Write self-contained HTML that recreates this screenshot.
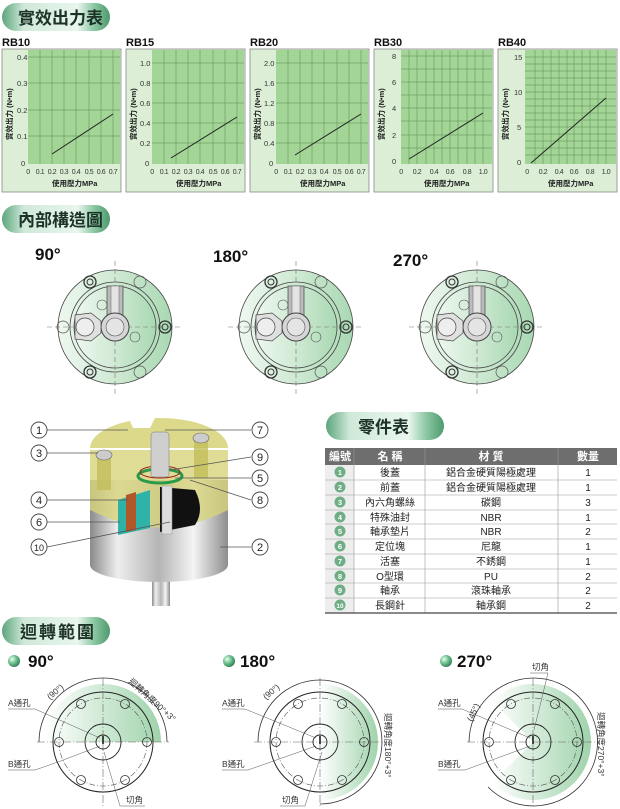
<!DOCTYPE html>
<html><head><meta charset="utf-8"><style>
body{margin:0;background:#fff;}
svg{display:block;font-family:"Liberation Sans","Noto Sans CJK TC",sans-serif;}
.tk{font-size:7.5px;fill:#333;}
.xk{font-size:7px;fill:#333;letter-spacing:-0.4px;text-anchor:middle;}
.ax{font-size:7.5px;fill:#222;font-weight:bold;}
.tt{font-size:11px;font-weight:bold;fill:#111;}
.hd{font-size:17px;font-weight:bold;fill:#1d3327;}
.deg{font-size:17px;font-weight:bold;fill:#111;}
.tb{font-size:10px;fill:#222;}
.th{font-size:11px;fill:#fff;font-weight:bold;}
.sm{font-size:8.5px;fill:#333;}
.cn{font-size:11px;fill:#222;}
</style></head><body>
<svg width="620" height="809" viewBox="0 0 620 809" xmlns="http://www.w3.org/2000/svg">
<defs>
<linearGradient id="tab" x1="0" y1="0" x2="1" y2="0">
<stop offset="0" stop-color="#5ca57c"/><stop offset="0.2" stop-color="#cfe9d8"/><stop offset="0.7" stop-color="#e9f6ee"/><stop offset="0.85" stop-color="#8cc7a3"/><stop offset="1" stop-color="#4d9a6d"/></linearGradient>
<linearGradient id="disc" x1="0" y1="0" x2="1" y2="0"><stop offset="0" stop-color="#eef8f0"/><stop offset="0.5" stop-color="#cfe9d3"/><stop offset="1" stop-color="#a9d9b3"/></linearGradient>
<linearGradient id="shade" x1="0" y1="0" x2="1" y2="0"><stop offset="0" stop-color="#ffffff"/><stop offset="1" stop-color="#9fd3ab"/></linearGradient>
<linearGradient id="silver" x1="0" y1="0" x2="1" y2="0"><stop offset="0" stop-color="#8a8a8a"/><stop offset="0.2" stop-color="#eeeeee"/><stop offset="0.5" stop-color="#b5b5b5"/><stop offset="0.75" stop-color="#f4f4f4"/><stop offset="1" stop-color="#8d8d8d"/></linearGradient>
<radialGradient id="ball" cx="0.35" cy="0.35" r="0.7"><stop offset="0" stop-color="#e8fff0"/><stop offset="0.5" stop-color="#6fc28f"/><stop offset="1" stop-color="#2f7c50"/></radialGradient>
<symbol id="top" viewBox="-60 -60 120 120" overflow="visible">
<circle r="57" fill="url(#disc)" stroke="#444" stroke-width="0.8"/>
<circle r="45" fill="none" stroke="#444" stroke-width="0.8"/>
<circle r="41" fill="url(#disc)" stroke="#444" stroke-width="0.8"/>
<line x1="-68" y1="0" x2="68" y2="0" stroke="#777" stroke-width="0.6" stroke-dasharray="5,3"/>
<line x1="0" y1="-66" x2="0" y2="68" stroke="#777" stroke-width="0.6" stroke-dasharray="5,3"/>
<rect x="-8" y="-41" width="16" height="32" fill="#bbb" stroke="#444" stroke-width="0.7"/>
<rect x="-4" y="-41" width="8" height="32" fill="#e4e4e4" stroke="#666" stroke-width="0.5"/>
<circle r="14" fill="#d6d6d6" stroke="#444" stroke-width="1"/>
<circle r="9" fill="#e4e4e4" stroke="#555" stroke-width="0.6"/>
<path d="M-40 -12 L-24 -14 L-14 -6 L-14 6 L-24 14 L-40 12 Z" fill="#e0e0e0" stroke="#444" stroke-width="0.7"/>
<circle cx="-30" cy="0" r="9" fill="#eee" stroke="#444" stroke-width="0.7"/>
<circle cx="-25" cy="-45" r="6" fill="none" stroke="#333" stroke-width="1.3"/><circle cx="-25" cy="-45" r="3" fill="none" stroke="#333"/>
<circle cx="-25" cy="45" r="6" fill="none" stroke="#333" stroke-width="1.3"/><circle cx="-25" cy="45" r="3" fill="none" stroke="#333"/>
<circle cx="25" cy="-45" r="6" fill="none" stroke="#555" stroke-width="0.7"/>
<circle cx="25" cy="45" r="6" fill="none" stroke="#555" stroke-width="0.7"/>
<circle cx="-52" cy="0" r="6" fill="none" stroke="#555" stroke-width="0.7"/>
<circle cx="50" cy="0" r="6" fill="none" stroke="#333" stroke-width="1.3"/><circle cx="50" cy="0" r="3" fill="none" stroke="#333"/>
<circle cx="-13" cy="-22" r="5" fill="none" stroke="#555" stroke-width="0.6"/>
<circle cx="20" cy="10" r="5" fill="none" stroke="#555" stroke-width="0.6"/>
</symbol>
<symbol id="fl" viewBox="-60 -60 120 120" overflow="visible">
<circle r="50" fill="none" stroke="#222" stroke-width="1"/>
<circle r="44" fill="none" stroke="#555" stroke-width="0.6" stroke-dasharray="6,2,1,2"/>
<line x1="-66" y1="0" x2="66" y2="0" stroke="#666" stroke-width="0.6" stroke-dasharray="8,2,1,2"/>
<line x1="0" y1="-64" x2="0" y2="64" stroke="#666" stroke-width="0.6" stroke-dasharray="8,2,1,2"/>
<circle r="18" fill="none" stroke="#222" stroke-width="0.9"/>
<circle r="7" fill="none" stroke="#222" stroke-width="0.9"/>
<g fill="none" stroke="#333" stroke-width="0.8">
<circle cx="44" cy="0" r="4.5"/><circle cx="-44" cy="0" r="4.5"/>
<circle cx="22" cy="-38" r="4.5"/><circle cx="-22" cy="-38" r="4.5"/>
<circle cx="22" cy="38" r="4.5"/><circle cx="-22" cy="38" r="4.5"/></g>
<path d="M0 -6 L0 2" stroke="#111" stroke-width="1.5"/>
</symbol>
</defs>

<!-- Tabs -->
<rect x="2" y="3" width="108" height="28" rx="14" fill="url(#tab)"/>
<text x="18" y="24" class="hd">實效出力表</text>
<rect x="2" y="205" width="108" height="28" rx="14" fill="url(#tab)"/>
<text x="18" y="226" class="hd">內部構造圖</text>
<rect x="326" y="412" width="118" height="28" rx="14" fill="url(#tab)"/>
<text x="358" y="433" class="hd">零件表</text>
<rect x="2" y="617" width="108" height="28" rx="14" fill="url(#tab)"/>
<text x="20" y="638" class="hd" letter-spacing="2">迴轉範圍</text>

<!-- Charts -->
<g>
<text x="2" y="46" class="tt">RB10</text>
<rect x="2" y="49" width="119" height="143" fill="#dcefd6" stroke="#888" stroke-width="0.8"/>
<rect x="28" y="50" width="92" height="114" fill="#a2d596"/>
<g stroke="#5c8a55" stroke-width="0.5">
<path d="M40 50V164M52 50V164M64 50V164M76 50V164M89 50V164M101 50V164M113 50V164M28 57H120M28 83H120M28 110H120M28 136H120"/></g>
<text x="17" y="60" class="tk">0.4</text><text x="17" y="86" class="tk">0.3</text><text x="17" y="113" class="tk">0.2</text><text x="17" y="139" class="tk">0.1</text><text x="21" y="166" class="tk">0</text>
<text x="28" y="174" class="xk">0</text><text x="40" y="174" class="xk">0.1</text><text x="52" y="174" class="xk">0.2</text><text x="64" y="174" class="xk">0.3</text><text x="76" y="174" class="xk">0.4</text><text x="89" y="174" class="xk">0.5</text><text x="101" y="174" class="xk">0.6</text><text x="113" y="174" class="xk">0.7</text>
<text x="52" y="186" class="ax">使用壓力MPa</text>
<text transform="translate(12,140) rotate(-90)" class="ax">實效出力 (N•m)</text>
<line x1="52" y1="154" x2="113" y2="114" stroke="#222" stroke-width="1"/>
</g>
<g transform="translate(124,0)">
<text x="2" y="46" class="tt">RB15</text>
<rect x="2" y="49" width="119" height="143" fill="#dcefd6" stroke="#888" stroke-width="0.8"/>
<rect x="28" y="50" width="92" height="114" fill="#a2d596"/>
<g stroke="#5c8a55" stroke-width="0.5"><path d="M40 50V164M52 50V164M64 50V164M76 50V164M89 50V164M101 50V164M113 50V164M28 63H120M28 83H120M28 103H120M28 123H120M28 143H120"/></g>
<text x="16" y="66" class="tk">1.0</text><text x="16" y="86" class="tk">0.8</text><text x="16" y="106" class="tk">0.6</text><text x="16" y="126" class="tk">0.4</text><text x="16" y="146" class="tk">0.2</text><text x="21" y="166" class="tk">0</text>
<text x="28" y="174" class="xk">0</text><text x="40" y="174" class="xk">0.1</text><text x="52" y="174" class="xk">0.2</text><text x="64" y="174" class="xk">0.3</text><text x="76" y="174" class="xk">0.4</text><text x="89" y="174" class="xk">0.5</text><text x="101" y="174" class="xk">0.6</text><text x="113" y="174" class="xk">0.7</text>
<text x="52" y="186" class="ax">使用壓力MPa</text>
<text transform="translate(12,140) rotate(-90)" class="ax">實效出力 (N•m)</text>
<line x1="47" y1="158" x2="113" y2="117" stroke="#222" stroke-width="1"/>
</g>
<g transform="translate(248,0)">
<text x="2" y="46" class="tt">RB20</text>
<rect x="2" y="49" width="119" height="143" fill="#dcefd6" stroke="#888" stroke-width="0.8"/>
<rect x="28" y="50" width="92" height="114" fill="#a2d596"/>
<g stroke="#5c8a55" stroke-width="0.5"><path d="M40 50V164M52 50V164M64 50V164M76 50V164M89 50V164M101 50V164M113 50V164M28 63H120M28 83H120M28 103H120M28 123H120M28 143H120"/></g>
<text x="16" y="66" class="tk">2.0</text><text x="16" y="86" class="tk">1.6</text><text x="16" y="106" class="tk">1.2</text><text x="16" y="126" class="tk">0.8</text><text x="16" y="146" class="tk">0.4</text><text x="21" y="166" class="tk">0</text>
<text x="28" y="174" class="xk">0</text><text x="40" y="174" class="xk">0.1</text><text x="52" y="174" class="xk">0.2</text><text x="64" y="174" class="xk">0.3</text><text x="76" y="174" class="xk">0.4</text><text x="89" y="174" class="xk">0.5</text><text x="101" y="174" class="xk">0.6</text><text x="113" y="174" class="xk">0.7</text>
<text x="52" y="186" class="ax">使用壓力MPa</text>
<text transform="translate(12,140) rotate(-90)" class="ax">實效出力 (N•m)</text>
<line x1="47" y1="155" x2="113" y2="114" stroke="#222" stroke-width="1"/>
</g>
<g>
<text x="374" y="46" class="tt">RB30</text>
<rect x="374" y="49" width="119" height="143" fill="#dcefd6" stroke="#888" stroke-width="0.8"/>
<rect x="401" y="50" width="91" height="114" fill="#a2d596"/>
<g stroke="#5c8a55" stroke-width="0.5"><path d="M409 50V164M417 50V164M426 50V164M434 50V164M442 50V164M450 50V164M458 50V164M467 50V164M475 50V164M483 50V164M401 56H492M401 82H492M401 108H492M401 135H492M401 69H492M401 95H492M401 121H492M401 148H492"/></g>
<text x="392" y="59" class="tk">8</text><text x="392" y="85" class="tk">6</text><text x="392" y="111" class="tk">4</text><text x="392" y="138" class="tk">2</text><text x="392" y="164" class="tk">0</text>
<text x="401" y="174" class="xk">0</text><text x="417" y="174" class="xk">0.2</text><text x="434" y="174" class="xk">0.4</text><text x="450" y="174" class="xk">0.6</text><text x="467" y="174" class="xk">0.8</text><text x="483" y="174" class="xk">1.0</text>
<text x="424" y="186" class="ax">使用壓力MPa</text>
<text transform="translate(384,140) rotate(-90)" class="ax">實效出力 (N•m)</text>
<line x1="409" y1="159" x2="483" y2="113" stroke="#222" stroke-width="1"/>
</g>
<g>
<text x="498" y="46" class="tt">RB40</text>
<rect x="498" y="49" width="119" height="143" fill="#dcefd6" stroke="#888" stroke-width="0.8"/>
<rect x="525" y="50" width="91" height="114" fill="#a2d596"/>
<g stroke="#5c8a55" stroke-width="0.5"><path d="M535 50V164M543 50V164M551 50V164M559 50V164M567 50V164M574 50V164M582 50V164M590 50V164M598 50V164M606 50V164M525 57H616M525 64H616M525 71H616M525 78H616M525 85H616M525 92H616M525 99H616M525 106H616M525 113H616M525 120H616M525 127H616M525 134H616M525 141H616M525 148H616M525 155H616"/></g>
<text x="514" y="60" class="tk">15</text><text x="514" y="95" class="tk">10</text><text x="517" y="130" class="tk">5</text><text x="517" y="165" class="tk">0</text>
<text x="527" y="174" class="xk">0</text><text x="543" y="174" class="xk">0.2</text><text x="559" y="174" class="xk">0.4</text><text x="574" y="174" class="xk">0.6</text><text x="590" y="174" class="xk">0.8</text><text x="606" y="174" class="xk">1.0</text>
<text x="548" y="186" class="ax">使用壓力MPa</text>
<text transform="translate(508,140) rotate(-90)" class="ax">實效出力 (N•m)</text>
<line x1="531" y1="163" x2="606" y2="98" stroke="#222" stroke-width="1"/>
</g>

<!-- internal structure top views -->
<text x="35" y="260" class="deg">90°</text>
<text x="213" y="262" class="deg">180°</text>
<text x="393" y="266" class="deg">270°</text>
<use href="#top" x="55" y="267" width="120" height="120"/>
<use href="#top" x="236" y="267" width="120" height="120"/>
<use href="#top" x="417" y="267" width="120" height="120"/>

<!-- cutaway -->
<g>
<rect x="152" y="570" width="18" height="36" fill="url(#silver)"/>
<rect x="90" y="480" width="138" height="85" fill="url(#silver)"/>
<ellipse cx="159" cy="565" rx="69" ry="17" fill="url(#silver)"/>
<path d="M90 450 L90 510 Q159 545 228 510 L228 450 Z" fill="#d7d37a" opacity="0.8"/>
<path d="M90 448 A69 30 0 0 1 130 421 L133 428 L150 428 L155 418 A69 30 0 0 1 228 448 Z" fill="#dcd98a"/>
<path d="M118 500 L150 490 L150 528 L118 535 Z" fill="#2fb3a8"/>
<path d="M126 495 L136 492 L136 530 L126 532 Z" fill="#b0582a"/>
<path d="M160 487 L195 490 Q205 510 195 525 L160 532 Z" fill="#111"/>
<rect x="162" y="486" width="10" height="48" fill="#ddd" stroke="#999" stroke-width="0.5"/>
<ellipse cx="160" cy="476" rx="22" ry="7" fill="none" stroke="#2a9a4a" stroke-width="3"/>
<ellipse cx="160" cy="472" rx="20" ry="6" fill="none" stroke="#a02020" stroke-width="1"/>
<rect x="151" y="432" width="18" height="45" rx="3" fill="#cfcfcf" stroke="#777" stroke-width="0.5"/>
<rect x="97" y="455" width="14" height="35" fill="#c2be5a" opacity="0.8"/>
<ellipse cx="104" cy="455" rx="8" ry="5" fill="#ccc" stroke="#666" stroke-width="0.6"/>
<rect x="194" y="438" width="14" height="40" fill="#c2be5a" opacity="0.8"/>
<ellipse cx="201" cy="438" rx="8" ry="5" fill="#ccc" stroke="#666" stroke-width="0.6"/>
</g>
<g stroke="#555" stroke-width="0.8" fill="none">
<path d="M47 430 H128"/><path d="M47 453 H98"/><path d="M47 500 H128"/><path d="M47 522 H120"/><path d="M47 547 L170 522"/>
<path d="M251 430 H165"/><path d="M251 457 L170 470"/><path d="M251 478 H175"/><path d="M251 500 L190 480"/><path d="M251 547 H220"/>
</g>
<g fill="#fff" stroke="#444" stroke-width="0.9">
<circle cx="39" cy="430" r="8"/><circle cx="39" cy="453" r="8"/><circle cx="39" cy="500" r="8"/><circle cx="39" cy="522" r="8"/><circle cx="39" cy="547" r="8"/>
<circle cx="260" cy="430" r="8"/><circle cx="260" cy="457" r="8"/><circle cx="260" cy="478" r="8"/><circle cx="260" cy="500" r="8"/><circle cx="260" cy="547" r="8"/>
</g>
<g class="cn" text-anchor="middle">
<text x="39" y="434">1</text><text x="39" y="457">3</text><text x="39" y="504">4</text><text x="39" y="526">6</text><text x="39" y="551" font-size="9">10</text>
<text x="260" y="434">7</text><text x="260" y="461">9</text><text x="260" y="482">5</text><text x="260" y="504">8</text><text x="260" y="551">2</text>
</g>

<!-- parts table -->
<rect x="325" y="448" width="292" height="17" fill="#6e6e6e"/>
<rect x="325" y="465" width="29" height="148" fill="#eeeeee"/>
<g stroke="#999" stroke-width="0.6">
<path d="M325 480H617M325 495H617M325 510H617M325 524H617M325 539H617M325 554H617M325 569H617M325 583H617M325 598H617"/>
<path d="M354 448V613M425 448V613M558 448V613"/></g>
<line x1="325" y1="613" x2="617" y2="613" stroke="#444" stroke-width="1.2"/>
<g text-anchor="middle">
<text x="340" y="460" class="th">編號</text><text x="390" y="460" class="th">名 稱</text><text x="491" y="460" class="th">材 質</text><text x="588" y="460" class="th">數量</text>
</g>
<g fill="#6fae85"><circle cx="340" cy="472" r="5.5"/><circle cx="340" cy="487" r="5.5"/><circle cx="340" cy="502" r="5.5"/><circle cx="340" cy="517" r="5.5"/><circle cx="340" cy="531" r="5.5"/><circle cx="340" cy="546" r="5.5"/><circle cx="340" cy="561" r="5.5"/><circle cx="340" cy="576" r="5.5"/><circle cx="340" cy="590" r="5.5"/><circle cx="340" cy="605" r="5.5"/></g>
<g text-anchor="middle" font-size="7.5" fill="#fff" font-weight="bold">
<text x="340" y="475">1</text><text x="340" y="490">2</text><text x="340" y="505">3</text><text x="340" y="520">4</text><text x="340" y="534">5</text><text x="340" y="549">6</text><text x="340" y="564">7</text><text x="340" y="579">8</text><text x="340" y="593">9</text><text x="340" y="608" font-size="6.5">10</text></g>
<g text-anchor="middle" class="tb">
<text x="390" y="476">後蓋</text><text x="491" y="476">鋁合金硬質陽極處理</text><text x="588" y="476">1</text>
<text x="390" y="491">前蓋</text><text x="491" y="491">鋁合金硬質陽極處理</text><text x="588" y="491">1</text>
<text x="390" y="506">內六角螺絲</text><text x="491" y="506">碳鋼</text><text x="588" y="506">3</text>
<text x="390" y="521">特殊油封</text><text x="491" y="521">NBR</text><text x="588" y="521">1</text>
<text x="390" y="535">軸承墊片</text><text x="491" y="535">NBR</text><text x="588" y="535">2</text>
<text x="390" y="550">定位塊</text><text x="491" y="550">尼龍</text><text x="588" y="550">1</text>
<text x="390" y="565">活塞</text><text x="491" y="565">不銹鋼</text><text x="588" y="565">1</text>
<text x="390" y="580">O型環</text><text x="491" y="580">PU</text><text x="588" y="580">2</text>
<text x="390" y="594">軸承</text><text x="491" y="594">滾珠軸承</text><text x="588" y="594">2</text>
<text x="390" y="609">長鋼針</text><text x="491" y="609">軸承鋼</text><text x="588" y="609">2</text>
</g>

<!-- rotation range -->
<circle cx="14" cy="661" r="6" fill="url(#ball)"/><text x="28" y="667" class="deg">90°</text>
<circle cx="229" cy="661" r="6" fill="url(#ball)"/><text x="240" y="667" class="deg">180°</text>
<circle cx="446" cy="661" r="6" fill="url(#ball)"/><text x="457" y="667" class="deg">270°</text>

<!-- 90 -->
<path d="M103 742 L45 742 A58 58 0 0 1 161 742 Z" fill="url(#shade)"/>
<use href="#fl" x="43" y="682" width="120" height="120"/>
<path d="M39 742 A64 64 0 0 1 167 742" fill="none" stroke="#333" stroke-width="0.8"/>
<text transform="translate(50,700) rotate(-40)" class="sm">(90°)</text>
<text transform="translate(128,682) rotate(42)" class="sm">迴轉角度90°+3°</text>
<text x="8" y="706" class="sm">A通孔</text><path d="M8 709 H35 L100 738" stroke="#555" stroke-width="0.5" fill="none"/>
<text x="8" y="767" class="sm">B通孔</text><path d="M8 770 H35 L58 762 L100 746" stroke="#555" stroke-width="0.5" fill="none"/>
<text x="126" y="803" class="sm">切角</text><path d="M145 806 H120 L104 752" stroke="#555" stroke-width="0.5" fill="none"/>

<!-- 180 -->
<path d="M320 684 A58 58 0 0 1 320 800 Z" fill="url(#shade)"/>
<use href="#fl" x="260" y="682" width="120" height="120"/>
<path d="M320 680 A62 62 0 0 1 320 804" fill="none" stroke="#333" stroke-width="0.8"/>
<path d="M320 680 A62 62 0 0 0 258 742" fill="none" stroke="#333" stroke-width="0.8"/>
<text transform="translate(266,700) rotate(-40)" class="sm">(90°)</text>
<text transform="translate(385,713) rotate(90)" class="sm">迴轉角度180°+3°</text>
<text x="222" y="706" class="sm">A通孔</text><path d="M222 709 H245 L316 738" stroke="#555" stroke-width="0.5" fill="none"/>
<text x="222" y="767" class="sm">B通孔</text><path d="M222 770 H248 L316 746" stroke="#555" stroke-width="0.5" fill="none"/>
<text x="282" y="803" class="sm">切角</text><path d="M280 806 H305 L322 752" stroke="#555" stroke-width="0.5" fill="none"/>

<!-- 270 -->
<path d="M533 742 L492 701 A58 58 0 1 1 492 783 Z" fill="url(#shade)"/>
<use href="#fl" x="473" y="682" width="120" height="120"/>
<path d="M488 697 A64 64 0 1 1 488 787" fill="none" stroke="#333" stroke-width="0.8"/>
<path d="M488 697 A64 64 0 0 0 469 742" fill="none" stroke="#333" stroke-width="0.8"/>
<text transform="translate(472,722) rotate(-65)" class="sm">(45°)</text>
<text transform="translate(598,712) rotate(90)" class="sm">迴轉角度270°+3°</text>
<text x="438" y="706" class="sm">A通孔</text><path d="M438 709 H462 L530 738" stroke="#555" stroke-width="0.5" fill="none"/>
<text x="438" y="767" class="sm">B通孔</text><path d="M438 770 H465 L530 746" stroke="#555" stroke-width="0.5" fill="none"/>
<text x="532" y="670" class="sm">切角</text><path d="M530 673 H548 L534 730" stroke="#555" stroke-width="0.5" fill="none"/>
</svg>
</body></html>
